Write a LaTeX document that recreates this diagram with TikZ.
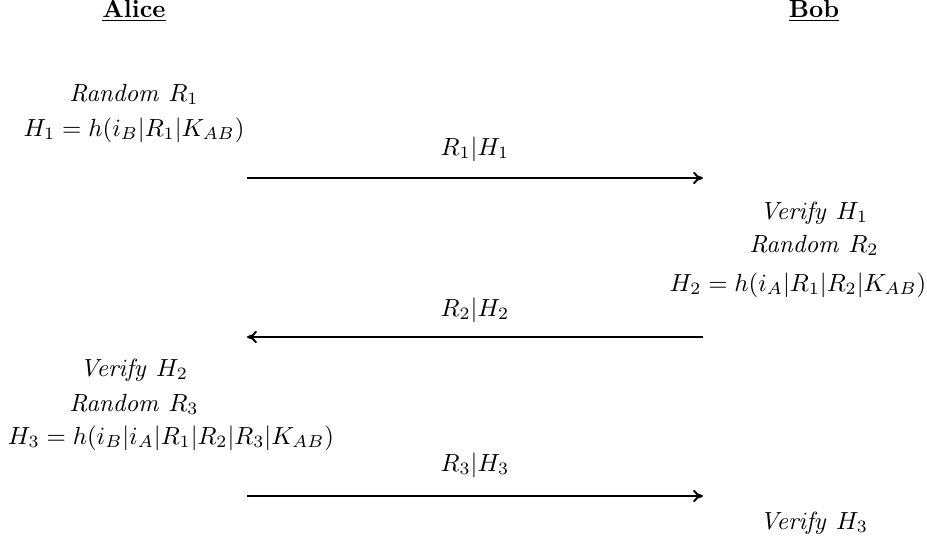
\documentclass[tikz,border=0pt]{standalone}
\usetikzlibrary{arrows.meta}
\begin{document}
\begin{tikzpicture}[x=0.4032pt,y=-0.4032pt,
  txt/.style={anchor=base,inner sep=0pt,outer sep=0pt},
  msg/.style={thick,-{To[length=4pt,width=5pt]}}]
\useasboundingbox (0,0) rectangle (927,542);
% headers
\node[txt] (alice) at (134,17) {\underline{\textbf{Alice}}};
\node[txt] (bob) at (814,17) {\underline{\textbf{Bob}}};
% Alice step 1
\node[txt] (a1) at (134,101) {$\mathit{Random}\ R_1$};
\node[txt] (a2) at (134,136) {$H_1 = h(i_B|R_1|K_{AB})$};
% message 1
\coordinate (m1s) at (247,178);
\coordinate (m1e) at (703,178);
\node[txt] (l1) at (475,155) {$R_1|H_1$};
\draw[msg] (m1s) -- (m1e);
% Bob step
\node[txt] (b1) at (814,219) {$\mathit{Verify}\ H_1$};
\node[txt] (b2) at (814,252) {$\mathit{Random}\ R_2$};
\node[txt] (b3) at (798,291) {$H_2 = h(i_A|R_1|R_2|K_{AB})$};
% message 2
\coordinate (m2s) at (703,337);
\coordinate (m2e) at (247,337);
\node[txt] (l2) at (475,316) {$R_2|H_2$};
\draw[msg] (m2s) -- (m2e);
% Alice step 2
\node[txt] (a3) at (134,376) {$\mathit{Verify}\ H_2$};
\node[txt] (a4) at (134,411) {$\mathit{Random}\ R_3$};
\node[txt] (a5) at (171,444) {$H_3 = h(i_B|i_A|R_1|R_2|R_3|K_{AB})$};
% message 3
\coordinate (m3s) at (247,496);
\coordinate (m3e) at (703,496);
\node[txt] (l3) at (475,471) {$R_3|H_3$};
\draw[msg] (m3s) -- (m3e);
% Bob final
\node[txt] (b4) at (814,529) {$\mathit{Verify}\ H_3$};
\end{tikzpicture}
\end{document}
